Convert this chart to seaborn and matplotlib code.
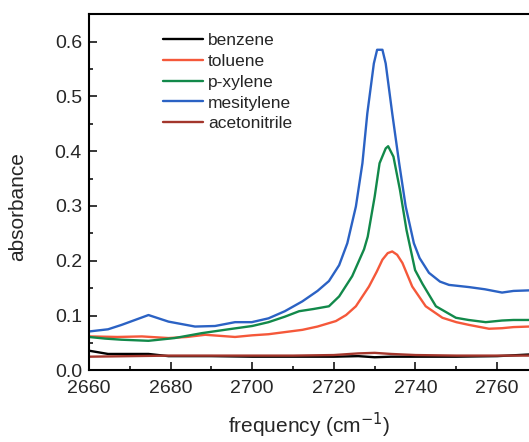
import numpy as np
import pandas as pd
import seaborn as sns
import matplotlib
matplotlib.use("Agg")
import matplotlib.pyplot as plt
from matplotlib.ticker import MultipleLocator, FormatStrFormatter

# ---- data ----
freq_mes = [2660, 2664.7, 2668, 2674.6, 2679.5, 2686, 2690.9, 2695.8, 2699.9, 2704, 2708,
            2712.3, 2716, 2718.8, 2721.3, 2723.3, 2725.4, 2727, 2728.2, 2729.8, 2730.6,
            2731.9, 2732.7, 2734.3, 2736, 2737.6, 2739.6, 2741, 2743.3, 2746, 2748.2,
            2753.1, 2757, 2761.2, 2764, 2767.8]
abs_mes = [0.071, 0.075, 0.083, 0.101, 0.089, 0.080, 0.081, 0.088, 0.088, 0.095, 0.108,
           0.126, 0.145, 0.163, 0.192, 0.232, 0.299, 0.378, 0.469, 0.560, 0.585,
           0.585, 0.560, 0.469, 0.378, 0.299, 0.232, 0.205, 0.178, 0.162, 0.156,
           0.152, 0.148, 0.142, 0.145, 0.146]

freq_px = [2660, 2664, 2668, 2674.6, 2681, 2687.7, 2694.2, 2700, 2704, 2708, 2711.5,
           2715, 2718.8, 2721.3, 2724.5, 2727.4, 2728.3, 2730, 2731.2, 2732.7, 2733.3,
           2734.6, 2736.2, 2737.8, 2739.9, 2741.7, 2745, 2749.9, 2753, 2757.2, 2761.2,
           2764, 2767.8]
abs_px = [0.061, 0.058, 0.056, 0.054, 0.059, 0.068, 0.075, 0.081, 0.088, 0.098, 0.108,
          0.112, 0.117, 0.135, 0.172, 0.221, 0.244, 0.317, 0.378, 0.405, 0.409,
          0.390, 0.329, 0.256, 0.183, 0.158, 0.117, 0.096, 0.092, 0.088, 0.091,
          0.092, 0.092]

freq_tol = [2660, 2667, 2673, 2679.5, 2684, 2688.5, 2695.8, 2700, 2704, 2712.3, 2716,
            2720.5, 2723, 2725.4, 2728.6, 2730.5, 2731.9, 2733.2, 2734.3, 2735.5, 2736.8,
            2739.2, 2742.5, 2746.6, 2750, 2753.1, 2758, 2761.2, 2764, 2767.8]
abs_tol = [0.062, 0.061, 0.062, 0.059, 0.061, 0.065, 0.061, 0.064, 0.066, 0.074, 0.080,
           0.090, 0.101, 0.117, 0.153, 0.180, 0.202, 0.214, 0.217, 0.211, 0.196,
           0.153, 0.117, 0.096, 0.088, 0.083, 0.076, 0.077, 0.079, 0.080]

freq_ben = [2660, 2664.7, 2670, 2674.6, 2679.5, 2690, 2700, 2710, 2720, 2726, 2730,
            2734, 2740, 2750, 2760, 2767.8]
abs_ben = [0.036, 0.030, 0.030, 0.030, 0.026, 0.026, 0.025, 0.025, 0.025, 0.026, 0.024,
           0.025, 0.025, 0.025, 0.026, 0.029]

freq_acn = [2660, 2670, 2680, 2690, 2700, 2710, 2720, 2726, 2730, 2734, 2740, 2750,
            2760, 2767.8]
abs_acn = [0.025, 0.026, 0.027, 0.027, 0.027, 0.027, 0.028, 0.031, 0.032, 0.030, 0.028,
           0.027, 0.027, 0.027]

names = ["benzene", "toluene", "p-xylene", "mesitylene", "acetonitrile"]
colors = ["#000000", "#f5583a", "#12894a", "#2b62c4", "#a3362c"]

frames = []
for n, f, a in zip(names,
                   [freq_ben, freq_tol, freq_px, freq_mes, freq_acn],
                   [abs_ben, abs_tol, abs_px, abs_mes, abs_acn]):
    frames.append(pd.DataFrame({"frequency": f, "absorbance": a, "sample": n}))
df = pd.concat(frames, ignore_index=True)

sns.set_style("ticks")
plt.rcParams["font.family"] = ["Liberation Sans", "DejaVu Sans"]

fig = plt.figure(figsize=(5.29, 4.42), dpi=100)
ax = fig.add_axes([0.168, 0.162, 0.832, 0.806])

sns.lineplot(data=df, x="frequency", y="absorbance", hue="sample",
             hue_order=names, palette=colors, linewidth=1.7, ax=ax,
             estimator=None, sort=False)

ax.set_xlim(2660, 2767.8)
ax.set_ylim(0, 0.65)
ax.xaxis.set_major_locator(MultipleLocator(20))
ax.xaxis.set_minor_locator(MultipleLocator(10))
ax.yaxis.set_major_locator(MultipleLocator(0.1))
ax.yaxis.set_minor_locator(MultipleLocator(0.05))
ax.yaxis.set_major_formatter(FormatStrFormatter("%.1f"))

ax.tick_params(which="major", direction="in", length=6, width=1.3, labelsize=14,
               top=False, right=False)
ax.tick_params(axis="x", which="major", pad=7)
ax.tick_params(axis="y", which="major", pad=5)
ax.tick_params(which="minor", direction="in", length=3, width=1.3, top=False, right=False)

for side in ["left", "bottom", "top"]:
    ax.spines[side].set_linewidth(1.5)
    ax.spines[side].set_color("black")
ax.spines["right"].set_visible(False)

ax.set_xlabel("frequency (cm$^{-1}$)", fontsize=15, labelpad=10)
ax.set_ylabel("absorbance", fontsize=15)
ax.yaxis.set_label_coords(-0.14, 0.459)

leg = ax.legend(loc="upper left", bbox_to_anchor=(0.1445, 0.977), frameon=False,
                fontsize=12.5, handlelength=2.3, handletextpad=0.3,
                labelspacing=0.33, borderaxespad=0.2)
for line in leg.get_lines():
    line.set_linewidth(1.7)

fig.savefig("out.png", dpi=100)
